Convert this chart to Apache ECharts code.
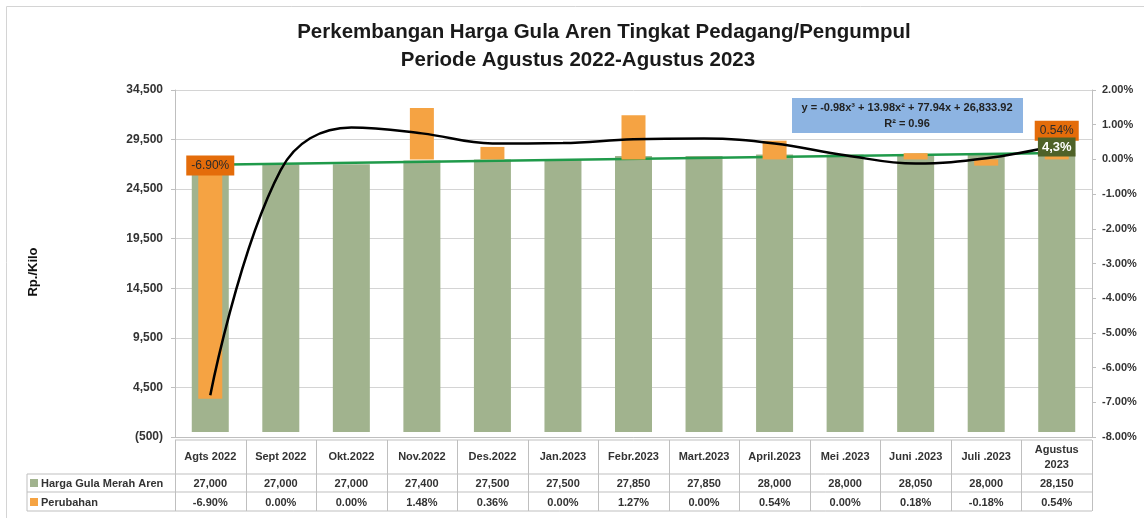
<!DOCTYPE html>
<html>
<head>
<meta charset="utf-8">
<script src="https://cdn.jsdelivr.net/npm/echarts@6/dist/echarts.min.js"></script>
<style>
  html, body { margin: 0; background: #fff; }
  #chart { width: 1144px; height: 518px; }
</style>
</head>
<body>
<div id="chart"></div>
<script>
var categories = ['Agts 2022', 'Sept 2022', 'Okt.2022', 'Nov.2022', 'Des.2022', 'Jan.2023', 'Febr.2023',
  'Mart.2023', 'April.2023', 'Mei .2023', 'Juni .2023', 'Juli .2023', 'Agustus\n2023']
var harga = [27000, 27000, 27000, 27400, 27500, 27500, 27850, 27850, 28000, 28000, 28050, 28000, 28150]
var perubahan = [-6.90, 0.00, 0.00, 1.48, 0.36, 0.00, 1.27, 0.00, 0.54, 0.00, 0.18, -0.18, 0.54]
// trend lines
var polyTrend = [-6.8, -0.3, 0.92, 0.75, 0.46, 0.47, 0.58, 0.6, 0.46, 0.12, -0.12, 0.03, 0.4]
var linearTrend = [26950, null, null, null, null, null, null, null, null, null, null, null, 28150]
var leftTickLabels = ['(500)', '4,500', '9,500', '14,500', '19,500', '24,500', '29,500', '34,500']
var rowNames = ['Harga Gula Merah Aren', 'Perubahan']
var titleLines = ['Perkembangan Harga Gula Aren Tingkat Pedagang/Pengumpul', 'Periode Agustus 2022-Agustus 2023']
var equation = ['y = -0.98x³ + 13.98x² + 77.94x + 26,833.92', 'R² = 0.96']
var trendLabel = '4,3%'

var FONT = '"Liberation Sans", Arial, sans-serif'
var GREEN = '#a1b38e'
var ORANGE = '#f5a343'
var gridLeft = 175
var gridRightX = 1092
var colW = (gridRightX - gridLeft) / categories.length
var lineColor = '#bfbfbf'

// data table under the plot
function buildTable() {
  var els = []
  var top = 440, r1 = 474, r2 = 492, bottom = 511, labelLeft = 27
  function hline(x1, x2, y) {
    els.push({ type: 'line', shape: { x1: x1, y1: y, x2: x2, y2: y }, style: { stroke: lineColor, lineWidth: 1 } })
  }
  function vline(x, y1, y2) {
    els.push({ type: 'line', shape: { x1: x, y1: y1, x2: x, y2: y2 }, style: { stroke: lineColor, lineWidth: 1 } })
  }
  function txt(t, x, y, align) {
    els.push({
      type: 'text', x: x, y: y,
      style: { text: t, font: 'bold 11px ' + FONT, fill: '#333', align: align || 'center', verticalAlign: 'middle', lineHeight: 15 }
    })
  }
  hline(gridLeft, gridRightX, top)
  hline(labelLeft, gridRightX, r1)
  hline(labelLeft, gridRightX, r2)
  hline(labelLeft, gridRightX, bottom)
  vline(labelLeft, r1, bottom)
  for (var i = 0; i <= categories.length; i++) {
    vline(Math.round(gridLeft + i * colW) + 0.5, top, bottom)
  }
  for (var j = 0; j < categories.length; j++) {
    var cx = gridLeft + (j + 0.5) * colW
    txt(categories[j], cx, (top + r1) / 2)
    txt(harga[j].toLocaleString('en-US'), cx, (r1 + r2) / 2 + 1)
    txt(perubahan[j].toFixed(2) + '%', cx, (r2 + bottom) / 2 + 1)
  }
  els.push({ type: 'rect', shape: { x: 30, y: 479, width: 8, height: 8 }, style: { fill: GREEN } })
  els.push({ type: 'rect', shape: { x: 30, y: 498, width: 8, height: 8 }, style: { fill: ORANGE } })
  txt(rowNames[0], 41, (r1 + r2) / 2 + 1, 'left')
  txt(rowNames[1], 41, (r2 + bottom) / 2 + 1, 'left')
  return els
}

var chart = echarts.init(document.getElementById('chart'))

var titleStyle = { font: 'bold 20.5px ' + FONT, fill: '#1a1a1a', align: 'center', verticalAlign: 'middle' }
var graphics = buildTable().concat([
  { type: 'rect', shape: { x: 6.5, y: 6.5, width: 1200, height: 600 }, style: { fill: 'none', stroke: '#d4d4d4', lineWidth: 1 }, z: -10 },
  { type: 'text', x: 604, y: 32, style: Object.assign({ text: titleLines[0] }, titleStyle) },
  { type: 'text', x: 578, y: 60, style: Object.assign({ text: titleLines[1] }, titleStyle) },
  { type: 'rect', shape: { x: 792, y: 98, width: 231, height: 35 }, style: { fill: '#8db4e2' }, z: 10 },
  { type: 'text', x: 907, y: 108, z: 11, style: { text: equation[0], font: 'bold 11px ' + FONT, fill: '#222', align: 'center', verticalAlign: 'middle' } },
  { type: 'text', x: 907, y: 124, z: 11, style: { text: equation[1], font: 'bold 11px ' + FONT, fill: '#222', align: 'center', verticalAlign: 'middle' } },
  { type: 'text', x: 33, y: 272, rotation: Math.PI / 2, style: { text: 'Rp./Kilo', font: 'bold 13px ' + FONT, fill: '#111', align: 'center', verticalAlign: 'middle' } }
])

function pctLabel(offsetY) {
  return {
    show: true, position: 'top', distance: 0, offset: [0, offsetY],
    formatter: function (p) { return p.value.toFixed(2) + '%' },
    backgroundColor: '#e46c0a', color: '#2b2b2b', padding: [4, 5],
    fontFamily: FONT, fontSize: 12
  }
}

chart.setOption({
  animation: false,
  grid: { left: gridLeft, right: 1144 - gridRightX, top: 90, bottom: 81 },
  graphic: graphics,
  xAxis: [
    {
      type: 'category', data: categories,
      axisLine: { lineStyle: { color: lineColor } },
      axisTick: { show: false },
      axisLabel: { show: false }
    },
    { type: 'category', data: categories, show: false }
  ],
  yAxis: [
    {
      // display axis for the left labels
      type: 'value', min: 0, max: 35000, interval: 5000, position: 'left',
      axisLine: { show: true, lineStyle: { color: lineColor } },
      axisTick: { show: true, length: 4, lineStyle: { color: lineColor } },
      axisLabel: {
        margin: 12, fontFamily: FONT, fontSize: 12, fontWeight: 'bold', color: '#333',
        formatter: function (v) { return leftTickLabels[Math.round(v / 5000)] }
      },
      splitLine: { lineStyle: { color: '#d4d4d4' } }
    },
    {
      type: 'value', min: -8, max: 2, interval: 1, position: 'right',
      axisLine: { show: true, lineStyle: { color: lineColor } },
      axisTick: { show: true, length: 4, lineStyle: { color: lineColor } },
      axisLabel: {
        margin: 10, fontFamily: FONT, fontSize: 11, fontWeight: 'bold', color: '#333',
        formatter: function (v) { return v.toFixed(2) + '%' }
      },
      splitLine: { show: false }
    },
    { type: 'value', min: -500, max: 34500, show: false, splitLine: { show: false } }
  ],
  series: [
    {
      name: rowNames[0], type: 'bar', xAxisIndex: 0, yAxisIndex: 2, data: harga,
      barWidth: 37, itemStyle: { color: GREEN }, z: 2
    },
    {
      type: 'line', xAxisIndex: 0, yAxisIndex: 2, data: linearTrend, connectNulls: true,
      showSymbol: false, symbol: 'none', lineStyle: { color: '#1f9a4a', width: 2.5 }, z: 3,
      markPoint: {
        z: 12, symbol: 'rect', symbolSize: 0,
        label: {
          show: true, position: 'inside', formatter: trendLabel, offset: [0, -6],
          backgroundColor: '#4f6228', padding: [3, 4], color: '#fff',
          fontFamily: FONT, fontSize: 13, fontWeight: 'bold'
        },
        data: [{ type: 'max' }]
      }
    },
    {
      name: rowNames[1], type: 'bar', xAxisIndex: 1, yAxisIndex: 1,
      data: perubahan.map(function (v, i) {
        if (i === 0) return { value: v, label: pctLabel(16) }
        if (i === perubahan.length - 1) return { value: v, label: pctLabel(0) }
        return v
      }),
      barWidth: 24, itemStyle: { color: ORANGE }, z: 4
    },
    {
      type: 'line', xAxisIndex: 0, yAxisIndex: 1, data: polyTrend, smooth: 0.4,
      showSymbol: false, symbol: 'none', lineStyle: { color: '#000', width: 2.5 }, z: 5
    }
  ]
})
</script>
</body>
</html>
